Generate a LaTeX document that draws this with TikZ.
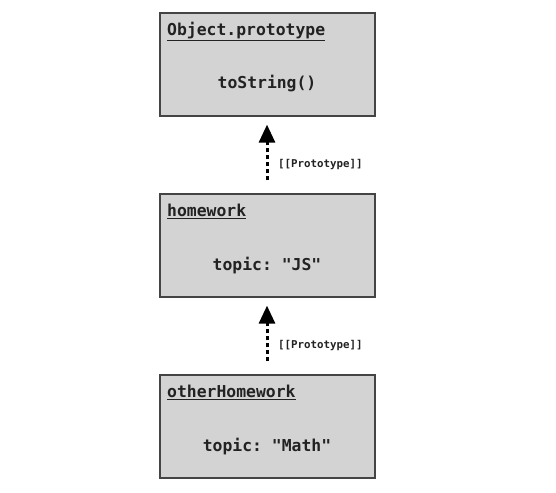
\documentclass[tikz,border=0pt]{standalone}
\usepackage{fontspec}
\setmonofont{DejaVu Sans Mono}
\usetikzlibrary{arrows.meta}
\definecolor{boxfill}{HTML}{D3D3D3}
\definecolor{boxline}{HTML}{444444}
\definecolor{txt}{HTML}{222222}
\tikzset{
  objbox/.style={draw=boxline, line width=1.3pt, fill=boxfill, minimum width=215pt, minimum height=103pt, inner sep=0pt},
  objtitle/.style={anchor=base west, inner sep=0pt, font=\ttfamily\bfseries\fontsize{16.4}{19}\selectfont, text=txt},
  objbody/.style={anchor=base, inner sep=0pt, font=\ttfamily\bfseries\fontsize{16.4}{19}\selectfont, text=txt},
  protoarrow/.style={line width=3pt, dash pattern=on 4pt off 3pt, -{Triangle[length=18pt,width=16pt]}, shorten <=13pt, shorten >=8pt},
  protolabel/.style={anchor=west, inner sep=0pt, font=\ttfamily\bfseries\fontsize{10.8}{12}\selectfont, text=txt}
}
\begin{document}
\begin{tikzpicture}[x=1pt,y=1pt]
\useasboundingbox (0,0) rectangle (556,-492);
\node[objbox] (b1) at (267.5,-64.5) {};
\node[objbox] (b2) at (267.5,-245.5) {};
\node[objbox] (b3) at (267.5,-426.5) {};
\node[objtitle] (t1) at (167,-35.5) {\underline{Object.prototype}};
\node[objbody] (c1) at (267,-89) {toString()};
\node[objtitle] (t2) at (167,-216.5) {\underline{homework}};
\node[objbody] (c2) at (267,-270) {topic: "JS"};
\node[objtitle] (t3) at (167,-397.5) {\underline{otherHomework}};
\node[objbody] (c3) at (267,-451) {topic: "Math"};
\draw[protoarrow] (b2.north -| 267,0) -- (b1.south -| 267,0);
\draw[protoarrow] (b3.north -| 267,0) -- (b2.south -| 267,0);
\node[protolabel] (l1) at (278,-164.5) {[[Prototype]]};
\node[protolabel] (l2) at (278,-345.5) {[[Prototype]]};
\end{tikzpicture}
\end{document}
